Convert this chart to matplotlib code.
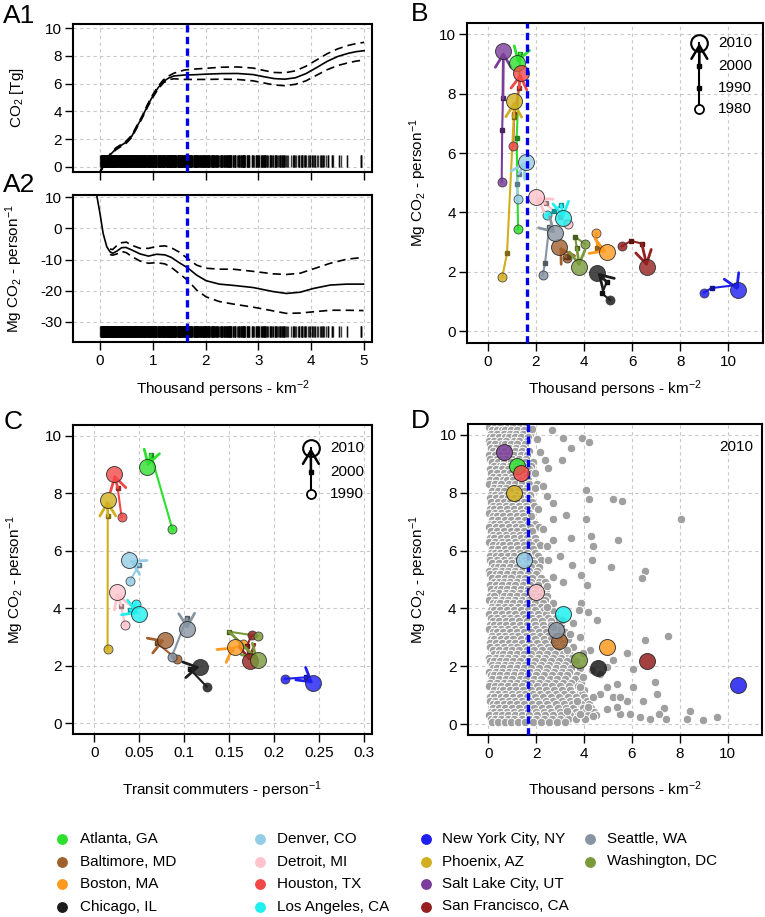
import matplotlib
matplotlib.use('Agg')
import matplotlib.pyplot as plt
import matplotlib.colors as mcolors
from matplotlib.lines import Line2D

plt.rcParams['font.family'] = ['Liberation Sans', 'DejaVu Sans']
plt.rcParams['mathtext.fontset'] = 'custom'
plt.rcParams['mathtext.rm'] = 'Liberation Sans'
plt.rcParams['mathtext.it'] = 'Liberation Sans:italic'
plt.rcParams['mathtext.default'] = 'regular'
plt.rcParams['axes.unicode_minus'] = False

# ---------------- data ----------------
threshold_density = 1.65

# Panel A1: CO2 [Tg] vs density (fit and confidence band)
a1_x = [0.0, 0.1, 0.2, 0.3, 0.4, 0.5, 0.6, 0.7, 0.8, 0.9, 1.0, 1.1, 1.2, 1.3, 1.4, 1.6, 1.8,
        2.0, 2.3, 2.6, 2.9, 3.1, 3.3, 3.5, 3.7, 3.9, 4.1, 4.3, 4.5, 4.7, 4.85, 5.0]
a1_fit = [-0.4, 0.4, 0.9, 1.3, 1.55, 1.8, 2.2, 2.9, 3.6, 4.4, 5.1, 5.7, 6.15, 6.4, 6.55, 6.62, 6.64,
          6.68, 6.72, 6.73, 6.65, 6.5, 6.36, 6.32, 6.42, 6.72, 7.15, 7.6, 7.95, 8.18, 8.3, 8.37]
a1_upper = [-0.35, 0.47, 0.97, 1.37, 1.62, 1.88, 2.28, 2.98, 3.68, 4.5, 5.2, 5.8, 6.27, 6.55, 6.75, 6.98, 7.05,
            7.1, 7.18, 7.2, 7.12, 6.95, 6.8, 6.78, 6.92, 7.25, 7.7, 8.15, 8.5, 8.75, 8.88, 8.97]
a1_lower = [-0.45, 0.33, 0.83, 1.23, 1.48, 1.72, 2.12, 2.82, 3.52, 4.3, 5.0, 5.6, 6.05, 6.28, 6.35, 6.3, 6.3,
            6.3, 6.32, 6.3, 6.2, 6.05, 5.9, 5.85, 5.95, 6.2, 6.6, 7.0, 7.3, 7.5, 7.62, 7.7]

# Panel A2: Mg CO2 per person vs density
a2_x = [-0.07, 0.0, 0.06, 0.13, 0.19, 0.24, 0.32, 0.41, 0.49, 0.6, 0.76, 0.92, 1.07, 1.23, 1.35, 1.5,
        1.67, 1.83, 2.01, 2.26, 2.52, 2.9, 3.28, 3.53, 3.79, 4.04, 4.36, 4.67, 4.99]
a2_fit = [11.5, 4.9, -1.6, -5.9, -7.5, -8.0, -7.3, -6.2, -6.1, -6.9, -8.2, -8.9, -8.3, -8.5, -9.3, -11.0,
          -12.8, -15.0, -16.8, -17.9, -18.3, -19.0, -20.3, -20.9, -20.5, -19.3, -18.2, -17.9, -17.9]
a2_band_x = [0.19, 0.24, 0.32, 0.41, 0.5, 0.6, 0.76, 0.92, 1.07, 1.23, 1.35, 1.5, 1.67, 1.83, 2.01,
             2.26, 2.52, 2.9, 3.28, 3.53, 3.79, 4.04, 4.36, 4.67, 4.99]
a2_upper = [-6.6, -6.8, -5.5, -4.6, -4.4, -5.4, -6.4, -6.4, -5.8, -5.6, -6.2, -7.6, -9.8, -11.8, -12.8,
            -13.1, -13.1, -13.8, -14.6, -14.8, -14.4, -13.0, -11.2, -9.9, -9.3]
a2_lower = [-8.4, -8.6, -8.2, -7.4, -7.8, -9.0, -10.5, -11.2, -11.0, -11.4, -12.5, -14.5, -16.8, -19.8, -22.0,
            -23.5, -24.3, -25.3, -26.5, -27.3, -27.2, -26.8, -26.3, -26.3, -26.4]

# Other U.S. cities in 2010 (panel D grey points and rug in A), rows of (Mg CO2/person, [densities])
other_rows = [
    (10.28, [0.03, 0.27, 0.49, 0.81, 1.04, 1.33, 1.57]),
    (10.17, [0.14, 0.38, 0.57, 0.71, 0.97, 1.22, 1.49]),
    (10.04, [0.11, 0.36, 0.64, 0.92, 1.16, 1.44, 1.73]),
    (9.93, [0.07, 0.18, 0.44, 0.69, 0.86, 1.11, 1.37, 1.66]),
    (9.80, [0.01, 0.23, 0.47, 0.76, 1.07, 1.29, 1.61]),
    (9.68, [0.09, 0.29, 0.56, 0.68, 0.95, 1.21, 1.52]),
    (9.55, [0.13, 0.34, 0.61, 0.87, 1.17, 1.46]),
    (9.43, [0.21, 0.43, 0.66, 0.93, 1.13, 1.41, 1.72]),
    (9.31, [0.04, 0.29, 0.53, 0.79, 1.06, 1.36, 1.63]),
    (9.18, [0.08, 0.35, 0.59, 0.74, 1.0, 1.3, 1.58]),
    (9.05, [0.16, 0.39, 0.67, 0.94, 1.24, 1.53, 1.86]),
    (8.93, [0.24, 0.47, 0.62, 0.89, 1.17, 1.47, 1.78]),
    (8.81, [0.06, 0.31, 0.56, 0.83, 1.11, 1.41, 1.69]),
    (8.68, [0.11, 0.37, 0.64, 0.91, 1.19, 1.49, 1.82]),
    (8.56, [0.19, 0.43, 0.71, 0.99, 1.27, 1.59]),
    (8.43, [0.09, 0.34, 0.61, 0.77, 1.05, 1.33, 1.64]),
    (8.30, [0.02, 0.26, 0.54, 0.86, 1.13, 1.39, 1.71, 2.04]),
    (8.18, [0.22, 0.48, 0.73, 1.03, 1.31, 1.62, 1.97]),
    (8.06, [0.14, 0.41, 0.66, 0.96, 1.23, 1.51]),
    (7.93, [0.1, 0.26, 0.53, 0.79, 1.16, 1.44, 1.74]),
    (7.81, [0.07, 0.33, 0.59, 0.84, 1.09, 1.37, 1.66]),
    (7.68, [0.13, 0.39, 0.65, 0.92, 1.21, 1.48, 1.81]),
    (7.56, [0.18, 0.46, 0.73, 1.01, 1.28, 1.56, 1.93]),
    (7.43, [0.09, 0.23, 0.5, 0.77, 1.06, 1.35, 1.63, 2.06]),
    (7.30, [0.035, 0.28, 0.55, 0.82, 1.12, 1.42, 1.72]),
    (7.18, [0.21, 0.36, 0.62, 0.9, 1.18, 1.47, 1.79]),
    (7.06, [0.15, 0.42, 0.69, 0.97, 1.26, 1.54]),
    (6.93, [0.1, 0.24, 0.51, 0.78, 1.07, 1.34, 1.64, 1.95]),
    (6.80, [0.05, 0.315, 0.58, 0.865, 1.14, 1.41, 1.76, 2.12]),
    (6.68, [0.12, 0.38, 0.65, 0.93, 1.22, 1.5, 1.83]),
    (6.55, [0.195, 0.44, 0.72, 1.02, 1.31, 1.58]),
    (6.43, [0.08, 0.25, 0.52, 0.79, 1.06, 1.36, 1.63, 1.94]),
    (6.30, [0.025, 0.30, 0.57, 0.835, 1.115, 1.43, 1.69, 2.01]),
    (6.18, [0.21, 0.46, 0.61, 0.89, 1.18, 1.48, 1.78, 2.16]),
    (6.06, [0.145, 0.39, 0.68, 0.95, 1.245, 1.555, 1.87]),
    (5.93, [0.11, 0.26, 0.49, 0.74, 1.03, 1.32, 1.61, 1.97]),
    (5.81, [0.065, 0.32, 0.545, 0.81, 1.09, 1.38, 1.67, 2.08]),
    (5.68, [0.09, 0.37, 0.66, 0.93, 1.21, 1.51, 1.82, 2.2]),
    (5.56, [0.17, 0.465, 0.74, 1.0, 1.29, 1.59, 1.91]),
    (5.43, [0.22, 0.41, 0.63, 0.91, 1.18, 1.47, 1.78, 2.12]),
    (5.30, [0.03, 0.27, 0.56, 0.83, 1.11, 1.39, 1.71, 2.03]),
    (5.18, [0.08, 0.34, 0.49, 0.77, 1.06, 1.34, 1.64, 1.98]),
    (5.05, [0.16, 0.42, 0.71, 0.97, 1.27, 1.55, 1.84, 2.21]),
    (4.93, [0.23, 0.45, 0.64, 0.92, 1.21, 1.49, 1.79, 2.14, 2.35]),
    (4.80, [0.055, 0.31, 0.59, 0.86, 1.13, 1.43, 1.73, 2.06]),
    (4.68, [0.11, 0.38, 0.52, 0.79, 1.07, 1.37, 1.67, 1.97, 2.42]),
    (4.55, [0.18, 0.45, 0.73, 1.01, 1.31, 1.61, 1.89, 2.26]),
    (4.43, [0.09, 0.24, 0.64, 0.91, 1.19, 1.49, 1.81, 2.14, 2.47]),
    (4.30, [0.02, 0.29, 0.57, 0.84, 1.12, 1.42, 1.72, 2.04, 2.36]),
    (4.18, [0.21, 0.36, 0.49, 0.77, 1.04, 1.33, 1.63, 1.96, 2.29, 2.71]),
    (4.05, [0.14, 0.41, 0.68, 0.96, 1.25, 1.54, 1.88, 2.19, 2.56]),
    (3.93, [0.1, 0.23, 0.51, 0.78, 1.06, 1.37, 1.66, 1.97, 2.32, 2.67]),
    (3.80, [0.05, 0.31, 0.58, 0.85, 1.13, 1.43, 1.74, 2.06, 2.41]),
    (3.68, [0.12, 0.38, 0.65, 0.92, 1.22, 1.52, 1.83, 2.14, 2.48, 2.83]),
    (3.55, [0.19, 0.45, 0.72, 0.99, 1.29, 1.61, 1.91, 2.23, 2.61]),
    (3.43, [0.08, 0.22, 0.48, 0.75, 1.03, 1.33, 1.62, 1.95, 2.27, 2.6, 3.02]),
    (3.30, [0.03, 0.28, 0.55, 0.82, 1.1, 1.4, 1.69, 2.01, 2.34, 2.88]),
    (3.18, [0.21, 0.36, 0.63, 0.9, 1.18, 1.48, 1.79, 2.1, 2.42, 2.71, 3.19]),
    (3.06, [0.15, 0.43, 0.7, 0.98, 1.26, 1.56, 1.86, 2.17, 2.49, 2.79]),
    (2.93, [0.11, 0.25, 0.52, 0.79, 1.05, 1.35, 1.64, 1.96, 2.31, 2.63, 2.96, 3.33]),
    (2.80, [0.06, 0.32, 0.59, 0.86, 1.12, 1.42, 1.71, 2.04, 2.39, 2.71, 3.12]),
    (2.68, [0.09, 0.38, 0.66, 0.93, 1.22, 1.52, 1.84, 2.16, 2.48, 2.82, 3.17, 3.52]),
    (2.55, [0.18, 0.45, 0.73, 1.0, 1.3, 1.6, 1.92, 2.24, 2.56, 2.91, 3.24]),
    (2.43, [0.23, 0.44, 0.63, 0.91, 1.19, 1.5, 1.8, 2.13, 2.46, 2.78, 3.12, 3.37]),
    (2.30, [0.02, 0.31, 0.56, 0.84, 1.12, 1.43, 1.73, 2.06, 2.38, 2.69, 3.04, 3.49]),
    (2.18, [0.08, 0.22, 0.48, 0.76, 1.04, 1.33, 1.64, 1.97, 2.3, 2.62, 2.96, 3.31, 3.66]),
    (2.05, [0.14, 0.4, 0.68, 0.96, 1.25, 1.55, 1.87, 2.21, 2.54, 2.87, 3.21]),
    (1.93, [0.21, 0.37, 0.62, 0.9, 1.19, 1.48, 1.79, 2.13, 2.47, 2.81, 3.13, 3.47, 3.82]),
    (1.80, [0.045, 0.305, 0.575, 0.855, 1.135, 1.415, 1.725, 2.045, 2.41, 2.73, 3.06, 3.39]),
    (1.68, [0.11, 0.24, 0.51, 0.78, 1.07, 1.36, 1.67, 1.98, 2.31, 2.65, 2.98, 3.31, 3.71]),
    (1.55, [0.175, 0.455, 0.725, 1.005, 1.305, 1.595, 1.905, 2.22, 2.56, 2.89, 3.21, 3.61]),
    (1.43, [0.09, 0.37, 0.64, 0.92, 1.2, 1.5, 1.81, 2.13, 2.46, 2.79, 3.12, 3.46, 3.88]),
    (1.30, [0.025, 0.285, 0.545, 0.825, 1.105, 1.405, 1.705, 2.02, 2.35, 2.68, 3.01, 3.36, 3.76]),
    (1.18, [0.22, 0.48, 0.61, 0.89, 1.17, 1.47, 1.78, 2.1, 2.42, 2.75, 3.08, 3.43, 3.82, 4.02]),
    (1.05, [0.155, 0.415, 0.695, 0.985, 1.265, 1.545, 1.855, 2.18, 2.51, 2.83, 3.16, 3.51, 3.91]),
    (0.93, [0.08, 0.23, 0.53, 0.76, 1.04, 1.34, 1.63, 1.96, 2.29, 2.63, 2.97, 3.32, 3.67, 4.01]),
    (0.80, [0.065, 0.295, 0.585, 0.845, 1.125, 1.425, 1.715, 2.055, 2.4, 2.72, 3.06, 3.41, 3.76, 4.12]),
    (0.68, [0.21, 0.36, 0.64, 0.92, 1.21, 1.51, 1.82, 2.14, 2.47, 2.81, 3.15, 3.49, 3.86, 4.22]),
    (0.55, [0.185, 0.445, 0.715, 0.995, 1.295, 1.605, 1.895, 2.225, 2.55, 2.9, 3.26, 3.56, 3.96, 4.31]),
    (0.43, [0.1, 0.24, 0.51, 0.77, 1.06, 1.35, 1.65, 1.98, 2.31, 2.64, 2.99, 3.34, 3.68, 4.05, 4.41]),
    (0.30, [0.035, 0.305, 0.565, 0.835, 1.115, 1.415, 1.715, 2.045, 2.38, 2.7, 3.05, 3.4, 3.75, 4.16, 4.52]),
    (0.18, [0.12, 0.27, 0.53, 0.81, 1.09, 1.39, 1.69, 2.01, 2.34, 2.67, 3.0, 3.33, 3.66, 4.04]),
    (0.08, [0.145, 0.405, 0.685, 0.965, 1.245, 1.555, 1.885, 2.2, 2.55, 2.88, 3.21]),
]
sparse_density = [2.67, 3.11, 3.45, 3.93, 4.22, 2.37, 3.09, 4.07, 4.21, 5.22, 5.58, 8.05, 4.07, 3.23, 2.72,
                  3.44, 4.28, 5.4, 4.39, 3.48, 4.32, 5.13, 6.56, 6.42, 3.89, 4.11, 3.11, 3.89, 4.18, 4.53,
                  3.77, 7.52, 6.55, 5.81, 6.06, 6.06, 6.98, 7.03, 6.48, 7.34, 7.14, 8.43, 8.29, 8.98, 9.54,
                  7.42, 6.75, 6.34, 5.92, 5.5, 5.36, 5.39, 4.94, 4.67, 4.39, 5.22, 4.94, 5.78, 5.5, 4.67,
                  4.32, 3.97, 3.83, 3.69, 4.18, 3.83, 4.39, 3.27, 5.22, 4.94, 4.25, 3.97, 3.83, 3.41, 3.55,
                  3.27, 3.06, 2.72, 2.72, 2.44, 2.44, 2.72, 2.51, 2.44, 2.72, 3.0, 2.3, 2.72, 2.44, 2.3,
                  2.51, 1.95, 2.16, 2.02, 1.81]
sparse_co2 = [10.17, 9.9, 9.54, 9.9, 9.74, 9.14, 9.13, 8.09, 7.77, 7.8, 7.71, 7.08, 7.08, 7.22, 7.08,
              6.42, 6.5, 6.36, 6.15, 5.51, 5.68, 5.42, 5.28, 5.05, 5.16, 4.81, 4.9, 4.2, 3.89, 3.6,
              3.94, 3.04, 2.9, 2.44, 1.91, 1.28, 1.45, 1.04, 0.81, 0.56, 0.35, 0.46, 0.17, 0.14, 0.26,
              0.17, 0.17, 0.23, 0.35, 0.35, 0.58, 1.39, 1.28, 1.04, 0.93, 0.93, 0.52, 0.81, 0.93, 1.74,
              1.86, 1.62, 1.28, 0.81, 0.58, 0.35, 0.29, 0.46, 2.2, 1.97, 2.55, 2.44, 3.02, 3.13, 3.48,
              2.55, 3.6, 3.36, 4.18, 4.06, 4.76, 5.1, 5.68, 6.15, 6.38, 5.8, 6.73, 7.66, 7.89, 8.24,
              8.87, 8.7, 9.4, 9.86, 10.2]

# Fourteen focus cities
cities = ['Atlanta, GA', 'Baltimore, MD', 'Boston, MA', 'Chicago, IL', 'Denver, CO', 'Detroit, MI',
          'Houston, TX', 'Los Angeles, CA', 'New York City, NY', 'Phoenix, AZ', 'Salt Lake City, UT',
          'San Francisco, CA', 'Seattle, WA', 'Washington, DC']
city_colors = ['#2EE02E', '#A0612F', '#FF9A1F', '#1C1C1C', '#96CDE6', '#FFC3CC', '#F24848', '#20F0F0',
               '#1E1EF0', '#D2AF1E', '#7A3D9A', '#962020', '#8894A2', '#7A9A3A']

# Panel B: density (thousand persons/km2) and Mg CO2/person in 1980, 1990, 2000, 2010
b_density = [[1.26, 1.2, 1.35, 1.23], [3.3, 3.35, 3.25, 2.98], [4.5, 4.55, 4.7, 4.95],
             [5.08, 4.74, 4.95, 4.56], [1.25, 1.2, 1.28, 1.59], [3.35, 3.0, 2.4, 1.99],
             [1.06, 1.1, 1.3, 1.37], [2.48, 2.75, 3.05, 3.14], [8.99, 9.3, 10.3, 10.4],
             [0.6, 0.8, 1.08, 1.1], [0.58, 0.6, 0.63, 0.65], [5.57, 5.95, 6.4, 6.62],
             [2.28, 2.38, 2.55, 2.81], [4.04, 3.63, 3.7, 3.81]]
b_co2 = [[3.44, 6.5, 9.35, 9.02], [2.45, 2.5, 2.5, 2.85], [3.29, 2.8, 2.75, 2.67],
         [1.05, 1.27, 1.65, 1.97], [4.45, 4.96, 5.3, 5.71], [3.6, 3.85, 4.3, 4.53],
         [6.24, 7.3, 8.2, 8.69], [3.91, 4.05, 4.25, 3.8], [1.3, 1.45, 1.55, 1.37],
         [1.81, 2.62, 7.2, 7.75], [5.03, 6.78, 7.84, 9.42], [2.86, 3.04, 2.95, 2.17],
         [1.89, 2.28, 3.5, 3.29], [2.93, 3.18, 2.8, 2.17]]

# Panel C: transit commuters per person and Mg CO2/person in 1990, 2000, 2010 (no Salt Lake City)
c_transit = [[0.087, 0.063, 0.059], [0.0916, 0.07, 0.0786], [0.165, 0.152, 0.156],
             [0.125, 0.106, 0.1175], [0.0397, 0.05, 0.0389], [0.0341, 0.03, 0.0248],
             [0.0304, 0.026, 0.0222], [0.046, 0.04, 0.05], [0.212, 0.235, 0.2436],
             [0.0148, 0.015, 0.0148], None, [0.175, 0.17, 0.173],
             [0.086, 0.103, 0.1034], [0.182, 0.150, 0.1824]]
c_co2 = [[6.75, 9.35, 8.93], [2.23, 2.8, 2.9], [2.75, 2.58, 2.67],
         [1.28, 1.9, 1.97], [4.97, 5.5, 5.68], [3.42, 4.1, 4.56],
         [7.17, 8.2, 8.67], [4.15, 3.95, 3.82], [1.55, 1.6, 1.39],
         [2.58, 7.2, 7.77], None, [3.07, 2.7, 2.16],
         [2.3, 3.65, 3.27], [3.04, 3.19, 2.2]]

# Panel D: 2010 values of the fourteen cities
d_density = [1.21, 2.95, 4.94, 4.57, 1.49, 1.98, 1.35, 3.11, 10.42, 1.09, 0.65, 6.64, 2.81, 3.8]
d_co2 = [8.93, 2.88, 2.67, 1.95, 5.68, 4.56, 8.67, 3.79, 1.36, 8.0, 9.4, 2.18, 3.27, 2.2]

other_density = [x for (y, xs) in other_rows for x in xs] + sparse_density
other_co2 = [y for (y, xs) in other_rows for x in xs] + sparse_co2

# ---------------- figure ----------------
W, H = 765, 917
fig = plt.figure(figsize=(W / 100, H / 100), dpi=100)


def ax_px(l, t, r, b):
    return fig.add_axes([l / W, 1 - b / H, (r - l) / W, (b - t) / H])


axA1 = ax_px(73, 24, 372, 172)
axA2 = ax_px(73, 195, 372, 342)
axB = ax_px(467.3, 22.7, 763.3, 342.7)
axC = ax_px(72.7, 425, 372.3, 734.3)
axD = ax_px(467.7, 424, 762.3, 735)

FS = 11


def style(ax, xt, yt, xlim, ylim):
    ax.set_xlim(xlim)
    ax.set_ylim(ylim)
    ax.set_xticks(xt)
    ax.set_yticks(yt)
    ax.grid(True, color='#C8C8C8', ls=(0, (3, 3)), lw=0.8)
    ax.set_axisbelow(True)
    for s in ax.spines.values():
        s.set_linewidth(1.5)
    ax.tick_params(direction='out', length=5.5, width=1.0, labelsize=FS)
    ax.tick_params(axis='x', pad=3)
    ax.tick_params(axis='y', pad=2.5)


blue_kw = dict(color='#0000EE', lw=2.4, ls=(0, (2.2, 1.3)), zorder=8)
ARROW = '->,head_length=0.5,head_width=0.3'
ARROW_MS = 19

# A1
style(axA1, range(0, 6), range(0, 11, 2), (-0.51, 5.15), (-0.36, 10.29))
axA1.set_xticklabels([])
axA1.plot(a1_x, a1_fit, color='black', lw=1.2)
axA1.plot(a1_x, a1_upper, color='black', lw=1.2, ls=(0, (5, 3)))
axA1.plot(a1_x, a1_lower, color='black', lw=1.2, ls=(0, (5, 3)))
rug_x = [x for x in other_density + d_density if x <= 5.1]
axA1.vlines(rug_x, 0.0, 0.85, color='black', lw=1.0, alpha=0.75)
axA1.axvline(threshold_density, **blue_kw)

# A2
style(axA2, range(0, 6), range(-30, 11, 10), (-0.51, 5.15), (-36.5, 10.74))
axA2.plot(a2_x, a2_fit, color='black', lw=1.2)
axA2.plot(a2_band_x, a2_upper, color='black', lw=1.2, ls=(0, (5, 3)))
axA2.plot(a2_band_x, a2_lower, color='black', lw=1.2, ls=(0, (5, 3)))
axA2.vlines(rug_x, -34.8, -31.3, color='black', lw=1.0, alpha=0.75)
axA2.axvline(threshold_density, **blue_kw)


def darker(c, f=0.6):
    r, g, b = mcolors.to_rgb(c)
    return (r * f, g * f, b * f)


def draw_traj(ax, xs, ys, color):
    ax.plot(xs[:-1], ys[:-1], color=color, lw=1.5, zorder=3)
    ax.plot([xs[0]], [ys[0]], 'o', ms=6.5, mfc=color, mec='#333333', mew=0.6, alpha=0.85, zorder=4)
    if len(xs) > 2:
        ax.plot(xs[1:-1], ys[1:-1], 's', ms=3, color=darker(color), zorder=4)
    ax.annotate('', xy=(xs[-1], ys[-1]), xytext=(xs[-2], ys[-2]), zorder=5,
                arrowprops=dict(arrowstyle=ARROW, color=color, lw=2.0, shrinkA=0, shrinkB=0,
                                mutation_scale=ARROW_MS))
    ax.plot([xs[-1]], [ys[-1]], 'o', ms=11.5, mfc=color, mec='#222222', mew=0.7, alpha=0.8, zorder=6)


# B
style(axB, range(0, 11, 2), range(0, 11, 2), (-0.85, 11.45), (-0.39, 10.39))
for i, c in enumerate(city_colors):
    draw_traj(axB, b_density[i], b_co2[i], c)
axB.axvline(threshold_density, **blue_kw)

# C
style(axC, [0, 0.05, 0.1, 0.15, 0.2, 0.25, 0.3], range(0, 11, 2), (-0.024, 0.3093), (-0.38, 10.38))
axC.set_xticklabels(['0', '0.05', '0.1', '0.15', '0.2', '0.25', '0.3'])
for i, c in enumerate(city_colors):
    if c_transit[i] is None:
        continue
    draw_traj(axC, c_transit[i], c_co2[i], c)

# D
style(axD, range(0, 11, 2), range(0, 11, 2), (-0.86, 11.45), (-0.38, 10.38))
axD.scatter(other_density, other_co2, s=38, color='#A0A0A0', edgecolors='white', linewidths=0.7, zorder=2)
axD.axvline(threshold_density, **blue_kw)
for i, c in enumerate(city_colors):
    axD.plot([d_density[i]], [d_co2[i]], 'o', ms=11.5, mfc=c, mec='#222222', mew=0.7, alpha=0.85, zorder=9)
axD.text(0.968, 0.927, '2010', transform=axD.transAxes, ha='right', va='center', fontsize=FS)


# Year legends in B and C
def year_legend(ax, lx, tx, ys, labels):
    tr = ax.transAxes
    ax.plot([lx, lx], [ys[-1], ys[0]], transform=tr, color='black', lw=1.5, zorder=10)
    ax.annotate('', xy=(lx, ys[0]), xytext=(lx, ys[1]), xycoords='axes fraction', zorder=10,
                arrowprops=dict(arrowstyle=ARROW, color='black', lw=1.8, shrinkA=0, shrinkB=0,
                                mutation_scale=ARROW_MS))
    ax.plot([lx], [ys[0]], 'o', ms=12, mfc='none', mec='black', mew=1.5, transform=tr, zorder=11)
    ax.plot([lx] * (len(ys) - 2), ys[1:-1], 's', ms=3, color='black', transform=tr, zorder=11)
    ax.plot([lx], [ys[-1]], 'o', ms=6.5, mfc='white', mec='black', mew=1.3, transform=tr, zorder=11)
    for y, lab in zip(ys, labels):
        ax.text(tx, y, lab, transform=tr, ha='left', va='center', fontsize=FS, zorder=12)


year_legend(axB, 0.784, 0.847, [0.936, 0.865, 0.796, 0.73], ['2010', '2000', '1990', '1980'])
year_legend(axC, 0.795, 0.859, [0.925, 0.849, 0.777], ['2010', '2000', '1990'])

# Labels
ylab_pc = 'Mg CO$_2$ - person$^{-1}$'
xlab_den = 'Thousand persons - km$^{-2}$'


def ftext(xpx, ypx, s, **kw):
    fig.text(xpx / W, 1 - ypx / H, s, **kw)


ftext(20.5, 98, 'CO$_2$ [Tg]', rotation=90, ha='center', va='baseline', rotation_mode='anchor', fontsize=FS)
ftext(19, 268.5, ylab_pc, rotation=90, ha='center', va='baseline', rotation_mode='anchor', fontsize=FS)
ftext(422.7, 182.7, ylab_pc, rotation=90, ha='center', va='baseline', rotation_mode='anchor', fontsize=FS)
ftext(20, 579.7, ylab_pc, rotation=90, ha='center', va='baseline', rotation_mode='anchor', fontsize=FS)
ftext(422.7, 579.5, ylab_pc, rotation=90, ha='center', va='baseline', rotation_mode='anchor', fontsize=FS)

ftext(222.5, 394, xlab_den, ha='center', va='baseline', fontsize=FS)
ftext(615.3, 394, xlab_den, ha='center', va='baseline', fontsize=FS)
ftext(222.5, 795, 'Transit commuters - person$^{-1}$', ha='center', va='baseline', fontsize=FS)
ftext(615, 795, xlab_den, ha='center', va='baseline', fontsize=FS)

# Panel letters
for lab, x, y in [('A1', 3, 23), ('A2', 3, 192), ('B', 411, 21), ('C', 4, 429), ('D', 411, 428)]:
    ftext(x, y, lab, ha='left', va='baseline', fontsize=19)

# City legend (four columns)
col_marker_x = [62, 260, 426, 590]
col_text_x = [80, 277, 442, 607]
row_y = [839, 861.5, 884, 906.5]
for i, (name, c) in enumerate(zip(cities, city_colors)):
    col, row = i // 4, i % 4
    fig.add_artist(Line2D([col_marker_x[col] / W], [1 - row_y[row] / H], transform=fig.transFigure,
                          marker='o', ls='', ms=6.8, mfc=c, mec=c))
    ftext(col_text_x[col], row_y[row], name, ha='left', va='center', fontsize=FS)

fig.savefig('out.png', dpi=100)
